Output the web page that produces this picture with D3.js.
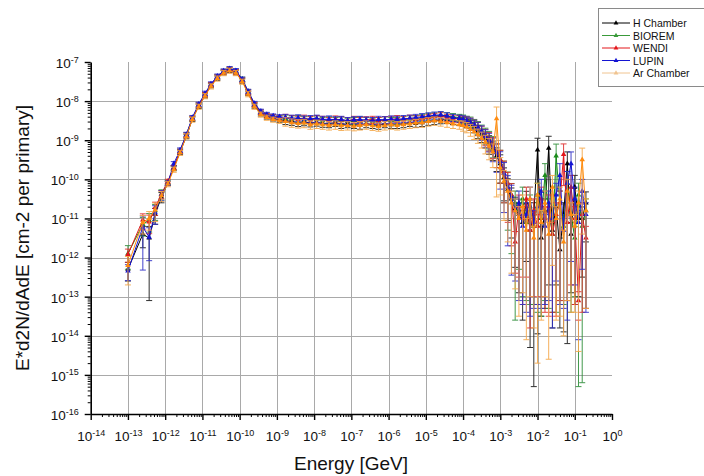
<!DOCTYPE html>
<html>
<head>
<meta charset="utf-8">
<script src="https://cdn.jsdelivr.net/npm/d3@7"></script>
<style>
  body { margin: 0; background: #fff; }
  svg text { font-family: "Liberation Sans", Arial, sans-serif; }
</style>
</head>
<body>
<div id="chart"></div>
<script>
// log10 of bin energy [GeV], shared by all detectors
const logE = [
  -13.0, -12.6, -12.43, -12.27, -12.1, -11.93, -11.77, -11.6, -11.43, -11.27,
  -11.1, -10.93, -10.77, -10.6, -10.43, -10.27, -10.1, -9.93, -9.77, -9.6,
  -9.43, -9.27, -9.1, -8.93, -8.77, -8.6, -8.43, -8.27, -8.1, -7.93,
  -7.77, -7.6, -7.43, -7.27, -7.1, -6.93, -6.77, -6.6, -6.43, -6.27,
  -6.1, -5.93, -5.77, -5.6, -5.43, -5.27, -5.1, -4.93, -4.77, -4.6,
  -4.43, -4.27, -4.1, -4.0, -3.9, -3.8, -3.7, -3.6, -3.5, -3.4,
  -3.3, -3.2, -3.1, -3.0, -2.9, -2.8, -2.7, -2.6, -2.5, -2.4,
  -2.3, -2.2, -2.1, -2.0, -1.9, -1.8, -1.7, -1.6, -1.5, -1.4,
  -1.3, -1.2, -1.1, -1.0, -0.9, -0.8, -0.7
];

// log10 of E*d2N/dAdE, and error (decades from value down to lower whisker)
const hChamber = [
  -12.3, -11.4, -11.5, -10.9, -10.45, -10.1, -9.7, -9.3, -8.9, -8.46,
  -8.13, -7.86, -7.6, -7.41, -7.27, -7.21, -7.27, -7.48, -7.8, -8.12,
  -8.32, -8.4, -8.45, -8.48, -8.5, -8.52, -8.55, -8.53, -8.56, -8.54,
  -8.57, -8.58, -8.55, -8.6, -8.58, -8.6, -8.62, -8.58, -8.6, -8.62,
  -8.58, -8.6, -8.6, -8.58, -8.55, -8.57, -8.55, -8.52, -8.5, -8.48,
  -8.47, -8.5, -8.52, -8.52, -8.56, -8.6, -8.66, -8.76, -8.86, -8.95,
  -9.06, -9.22, -9.4, -9.6, -9.95, -10.25, -10.5, -10.75, -10.9, -11.1,
  -10.6, -11.3, -10.9, -9.25, -11.5, -10.8, -9.2, -11.3, -10.7, -11.8,
  -10.9, -9.6, -11.4, -10.2, -11.0, -11.0, -10.6
];
const hChamberErr = [
  0.3, 0.35, 1.6, 0.25, 0.15, 0.06, 0.06, 0.06, 0.06, 0.06,
  0.06, 0.06, 0.06, 0.06, 0.06, 0.06, 0.06, 0.06, 0.06, 0.06,
  0.06, 0.06, 0.06, 0.06, 0.1, 0.1, 0.1, 0.1, 0.1, 0.1,
  0.1, 0.1, 0.1, 0.1, 0.1, 0.1, 0.1, 0.1, 0.1, 0.1,
  0.1, 0.1, 0.1, 0.1, 0.1, 0.1, 0.1, 0.1, 0.1, 0.1,
  0.1, 0.1, 0.1, 0.12, 0.12, 0.15, 0.15, 0.2, 0.2, 0.25,
  0.3, 0.3, 0.4, 0.5, 0.6, 0.8, 1.0, 1.5, 2.0, 2.5,
  1.5, 3.0, 4.4, 4.7, 2.0, 2.5, 3.5, 2.5, 2.0, 2.0,
  3.0, 4.6, 1.5, 3.0, 2.0, 1.5, 1.0
];

const biorem = [
  -11.9, -11.15, -11.05, -10.8, -10.38, -10.07, -9.72, -9.28, -8.86, -8.44,
  -8.1, -7.83, -7.58, -7.38, -7.24, -7.18, -7.24, -7.44, -7.76, -8.08,
  -8.28, -8.36, -8.4, -8.42, -8.44, -8.46, -8.45, -8.48, -8.47, -8.46,
  -8.5, -8.48, -8.5, -8.49, -8.52, -8.5, -8.48, -8.5, -8.52, -8.5,
  -8.48, -8.5, -8.5, -8.47, -8.46, -8.45, -8.42, -8.4, -8.38, -8.36,
  -8.38, -8.4, -8.42, -8.45, -8.48, -8.52, -8.58, -8.66, -8.75, -8.85,
  -8.95, -9.1, -9.3, -9.5, -9.8, -10.1, -10.4, -10.6, -10.8, -10.5,
  -11.1, -10.7, -11.2, -10.4, -11.0, -9.9, -10.8, -11.4, -9.4, -10.6,
  -11.2, -10.1, -10.9, -11.5, -10.4, -11.2, -10.8
];
const bioremErr = [
  0.4, 0.3, 0.3, 0.25, 0.15, 0.06, 0.06, 0.06, 0.06, 0.06,
  0.06, 0.06, 0.06, 0.06, 0.06, 0.06, 0.06, 0.06, 0.06, 0.06,
  0.06, 0.06, 0.06, 0.06, 0.1, 0.1, 0.1, 0.1, 0.1, 0.1,
  0.1, 0.1, 0.1, 0.1, 0.1, 0.1, 0.1, 0.1, 0.1, 0.1,
  0.1, 0.1, 0.1, 0.1, 0.1, 0.1, 0.1, 0.1, 0.1, 0.1,
  0.1, 0.1, 0.1, 0.12, 0.12, 0.15, 0.15, 0.2, 0.2, 0.25,
  0.3, 0.35, 0.4, 0.6, 0.8, 1.2, 1.5, 3.0, 1.5, 2.5,
  2.0, 2.5, 2.0, 3.0, 2.5, 3.2, 2.5, 2.0, 4.0, 2.5,
  2.0, 3.0, 2.5, 1.5, 4.9, 4.0, 2.5
];

const wendi = [
  -11.92, -11.04, -11.09, -10.72, -10.38, -10.05, -9.7, -9.28, -8.87, -8.44,
  -8.1, -7.83, -7.58, -7.38, -7.25, -7.19, -7.25, -7.46, -7.77, -8.09,
  -8.28, -8.37, -8.4, -8.43, -8.42, -8.45, -8.47, -8.44, -8.48, -8.45,
  -8.47, -8.5, -8.46, -8.48, -8.5, -8.47, -8.5, -8.48, -8.47, -8.5,
  -8.48, -8.47, -8.45, -8.48, -8.44, -8.46, -8.45, -8.42, -8.4, -8.38,
  -8.42, -8.44, -8.45, -8.48, -8.5, -8.55, -8.6, -8.68, -8.78, -8.88,
  -8.98, -9.12, -9.3, -9.5, -9.8, -10.1, -10.4, -11.6, -10.7, -11.0,
  -10.5, -11.3, -10.8, -11.2, -10.5, -11.0, -10.7, -11.4, -10.9, -10.6,
  -9.36, -11.1, -10.2, -11.0, -13.1, -10.9, -11.5
];
const wendiErr = [
  0.2, 0.25, 0.3, 0.2, 0.12, 0.06, 0.06, 0.06, 0.06, 0.06,
  0.06, 0.06, 0.06, 0.06, 0.06, 0.06, 0.06, 0.06, 0.06, 0.06,
  0.06, 0.06, 0.06, 0.06, 0.1, 0.1, 0.1, 0.1, 0.1, 0.1,
  0.1, 0.1, 0.1, 0.1, 0.1, 0.1, 0.1, 0.1, 0.1, 0.1,
  0.1, 0.1, 0.1, 0.1, 0.1, 0.1, 0.1, 0.1, 0.1, 0.1,
  0.1, 0.1, 0.1, 0.12, 0.12, 0.15, 0.15, 0.2, 0.2, 0.25,
  0.3, 0.35, 0.4, 0.6, 0.8, 1.0, 1.3, 0.8, 1.8, 2.2,
  2.0, 2.5, 2.2, 2.0, 2.5, 2.4, 2.8, 2.0, 2.6, 2.5,
  0.8, 2.0, 2.5, 2.2, 0.5, 2.5, 1.8
];

const lupin = [
  -12.34, -11.22, -11.48, -10.85, -10.4, -10.1, -9.6, -9.25, -8.85, -8.42,
  -8.08, -7.8, -7.56, -7.36, -7.23, -7.17, -7.22, -7.44, -7.75, -8.06,
  -8.26, -8.34, -8.38, -8.4, -8.42, -8.44, -8.43, -8.46, -8.45, -8.44,
  -8.47, -8.46, -8.48, -8.47, -8.5, -8.48, -8.47, -8.49, -8.5, -8.47,
  -8.48, -8.46, -8.47, -8.45, -8.44, -8.42, -8.4, -8.38, -8.36, -8.35,
  -8.38, -8.42, -8.44, -8.47, -8.5, -8.55, -8.6, -8.68, -8.78, -8.9,
  -9.0, -9.15, -9.32, -9.55, -9.85, -10.2, -10.45, -10.8, -10.6, -11.2,
  -10.9, -10.5, -11.1, -10.7, -10.3, -11.2, -10.6, -11.0, -10.4, -9.9,
  -11.3, -10.1, -9.6, -10.5, -11.1, -10.3, -10.9
];
const lupinErr = [
  0.25, 1.1, 0.6, 0.3, 0.15, 0.06, 0.06, 0.06, 0.06, 0.06,
  0.06, 0.06, 0.06, 0.06, 0.06, 0.06, 0.06, 0.06, 0.06, 0.06,
  0.06, 0.06, 0.06, 0.06, 0.1, 0.1, 0.1, 0.1, 0.1, 0.1,
  0.1, 0.1, 0.1, 0.1, 0.1, 0.1, 0.1, 0.1, 0.1, 0.1,
  0.1, 0.1, 0.1, 0.1, 0.1, 0.1, 0.1, 0.1, 0.1, 0.1,
  0.1, 0.1, 0.1, 0.12, 0.12, 0.15, 0.15, 0.2, 0.22, 0.28,
  0.3, 0.4, 0.5, 0.7, 1.0, 1.5, 2.0, 1.8, 2.5, 2.0,
  2.5, 3.0, 2.2, 2.5, 3.0, 2.0, 2.5, 2.8, 2.2, 3.3,
  2.0, 3.5, 2.5, 2.2, 3.0, 2.0, 2.5
];

const arChamber = [
  -12.2, -11.1, -11.0, -10.78, -10.42, -10.12, -9.75, -9.32, -8.9, -8.47,
  -8.14, -7.87, -7.62, -7.42, -7.28, -7.22, -7.28, -7.5, -7.82, -8.14,
  -8.34, -8.42, -8.47, -8.5, -8.52, -8.55, -8.57, -8.56, -8.6, -8.58,
  -8.6, -8.62, -8.6, -8.63, -8.62, -8.64, -8.62, -8.6, -8.63, -8.65,
  -8.62, -8.6, -8.62, -8.6, -8.58, -8.56, -8.55, -8.52, -8.5, -8.52,
  -8.55, -8.58, -8.6, -8.62, -8.66, -8.72, -8.78, -8.86, -8.95, -9.05,
  -9.15, -9.3, -8.45, -9.7, -10.05, -10.3, -10.6, -10.8, -11.0, -10.7,
  -11.3, -10.5, -11.5, -10.4, -11.1, -10.6, -11.4, -10.2, -11.0, -10.5,
  -11.6, -10.3, -10.9, -11.2, -10.6, -9.5, -10.8
];
const arChamberErr = [
  0.5, 0.3, 0.3, 0.3, 0.15, 0.07, 0.07, 0.07, 0.07, 0.07,
  0.07, 0.07, 0.07, 0.07, 0.07, 0.07, 0.07, 0.07, 0.07, 0.07,
  0.07, 0.07, 0.07, 0.07, 0.12, 0.12, 0.12, 0.12, 0.12, 0.12,
  0.12, 0.12, 0.12, 0.12, 0.12, 0.12, 0.12, 0.12, 0.12, 0.12,
  0.12, 0.12, 0.12, 0.12, 0.12, 0.12, 0.12, 0.12, 0.12, 0.12,
  0.12, 0.12, 0.12, 0.15, 0.15, 0.18, 0.2, 0.22, 0.25, 0.3,
  0.35, 0.4, 2.0, 0.7, 1.0, 1.3, 1.8, 2.0, 2.5, 2.2,
  2.8, 2.5, 2.3, 4.3, 2.5, 2.4, 3.2, 2.0, 2.6, 3.0,
  2.4, 2.8, 2.5, 2.2, 3.8, 1.9, 2.5
];

const seriesNames = ["H Chamber", "BIOREM", "WENDI", "LUPIN", "Ar Chamber"];
const xTickExp = [-14, -13, -12, -11, -10, -9, -8, -7, -6, -5, -4, -3, -2, -1, 0];
const yTickExp = [-16, -15, -14, -13, -12, -11, -10, -9, -8, -7];

const series = [
  { name: seriesNames[0], vals: hChamber, err: hChamberErr, color: "#000000", bar: "#1a1a1a" },
  { name: seriesNames[1], vals: biorem, err: bioremErr, color: "#1b8c1b", bar: "#2f8f3a" },
  { name: seriesNames[2], vals: wendi, err: wendiErr, color: "#e3161b", bar: "#e03030" },
  { name: seriesNames[3], vals: lupin, err: lupinErr, color: "#1414d2", bar: "#3030c8" },
  { name: seriesNames[4], vals: arChamber, err: arChamberErr, color: "#ff8c10", bar: "#f5a84a" }
];

const width = 704, height = 476;

const svg = d3.select("#chart").append("svg")
  .attr("width", width)
  .attr("height", height);

// Scales
const x = d3.scaleLog().domain([1e-14, 1]).range([90.7, 612]);
const y = d3.scaleLog().domain([1e-16, 1e-7]).range([414, 62]);

// Grid
const grid = svg.append("g").attr("stroke", "#a9a9a9").attr("stroke-width", 1);
grid.selectAll(".vg")
  .data(xTickExp.filter(e => e > -14 && e < 0))
  .enter().append("line")
  .attr("x1", e => Math.round(x(Math.pow(10, e))) + 0.5)
  .attr("x2", e => Math.round(x(Math.pow(10, e))) + 0.5)
  .attr("y1", y(1e-7)).attr("y2", y(1e-16));
grid.selectAll(".hg")
  .data(yTickExp.filter(e => e > -16 && e < -7))
  .enter().append("line")
  .attr("y1", e => Math.round(y(Math.pow(10, e))) + 0.5)
  .attr("y2", e => Math.round(y(Math.pow(10, e))) + 0.5)
  .attr("x1", x(1e-14)).attr("x2", x(1));

// Plot data
svg.append("clipPath").attr("id", "clip")
  .append("rect").attr("x", x(1e-14)).attr("y", 40)
  .attr("width", x(1) - x(1e-14)).attr("height", y(1e-16) - 40);

const plot = svg.append("g").attr("clip-path", "url(#clip)");
const tri = d3.symbol().type(d3.symbolTriangle).size(13);

series.forEach(s => {
  const pts = logE.map((e, i) => {
    const v = Math.pow(10, s.vals[i]);
    const rel = 1 - Math.pow(10, -s.err[i]);
    return { e: Math.pow(10, e), v: v, lo: v * (1 - rel), hi: v * (1 + rel) };
  });
  const g = plot.append("g");

  // error bars
  const eb = g.selectAll(".eb").data(pts).enter().append("g")
    .attr("stroke", s.bar).attr("stroke-width", 1).attr("opacity", 0.9);
  eb.append("line")
    .attr("x1", d => x(d.e)).attr("x2", d => x(d.e))
    .attr("y1", d => y(Math.max(d.lo, 1e-17))).attr("y2", d => y(d.hi));
  eb.append("line")
    .attr("x1", d => x(d.e) - 3).attr("x2", d => x(d.e) + 3)
    .attr("y1", d => y(d.hi)).attr("y2", d => y(d.hi));
  eb.append("line")
    .attr("x1", d => x(d.e) - 3).attr("x2", d => x(d.e) + 3)
    .attr("y1", d => y(Math.max(d.lo, 1e-17))).attr("y2", d => y(Math.max(d.lo, 1e-17)));

  // line
  g.append("path")
    .datum(pts)
    .attr("fill", "none")
    .attr("stroke", s.color)
    .attr("stroke-width", 1)
    .attr("d", d3.line().x(d => x(d.e)).y(d => y(d.v)));

  // markers
  g.selectAll(".mk").data(pts).enter().append("path")
    .attr("d", tri)
    .attr("fill", s.color)
    .attr("transform", d => `translate(${x(d.e)},${y(d.v)})`);
});

// Superscript labels
function expLabel(text, e) {
  text.text("");
  text.append("tspan").text("10");
  text.append("tspan").attr("dy", "-0.6em").attr("font-size", "9px").text(e);
}

// Minor ticks
const xMinor = [], yMinor = [];
xTickExp.slice(0, -1).forEach(e => [2, 3, 4, 5, 6, 7, 8, 9].forEach(k => xMinor.push(k * Math.pow(10, e))));
yTickExp.slice(0, -1).forEach(e => [2, 3, 4, 5, 6, 7, 8, 9].forEach(k => yMinor.push(k * Math.pow(10, e))));

svg.append("g")
  .attr("transform", `translate(0,${y(1e-16)})`)
  .call(d3.axisBottom(x).tickValues(xMinor).tickSize(3).tickFormat(""))
  .call(g => g.select(".domain").remove())
  .selectAll("line").attr("stroke-width", 1);

svg.append("g")
  .attr("transform", `translate(${x(1e-14)},0)`)
  .call(d3.axisLeft(y).tickValues(yMinor).tickSize(3).tickFormat(""))
  .call(g => g.select(".domain").remove())
  .selectAll("line").attr("stroke-width", 1);

// X Axis
const xAxis = svg.append("g")
  .attr("transform", `translate(0,${y(1e-16)})`)
  .call(d3.axisBottom(x).tickValues(xTickExp.map(e => Math.pow(10, e))).tickSize(6).tickSizeOuter(0));
xAxis.select(".domain").attr("stroke-width", 1.6);
xAxis.selectAll("line").attr("stroke-width", 1.4);
xAxis.selectAll("text")
  .attr("font-size", "13.5px").attr("fill", "#111")
  .attr("y", 27).attr("dy", 0)
  .each(function (d, i) { expLabel(d3.select(this), xTickExp[i]); });

// Y Axis
const yAxis = svg.append("g")
  .attr("transform", `translate(${x(1e-14)},0)`)
  .call(d3.axisLeft(y).tickValues(yTickExp.map(e => Math.pow(10, e))).tickSize(6).tickSizeOuter(0));
yAxis.select(".domain").attr("stroke-width", 1.6);
yAxis.selectAll("line").attr("stroke-width", 1.4);
yAxis.selectAll("text")
  .attr("font-size", "13.5px").attr("fill", "#111")
  .attr("x", -12).attr("dy", "0.4em")
  .each(function (d, i) { expLabel(d3.select(this), yTickExp[i]); });

// Axis titles
svg.append("text")
  .attr("x", 351).attr("y", 470)
  .attr("text-anchor", "middle")
  .attr("font-size", "19px").attr("fill", "#111")
  .text("Energy [GeV]");

svg.append("text")
  .attr("transform", "rotate(-90)")
  .attr("x", -238).attr("y", 29)
  .attr("text-anchor", "middle")
  .attr("font-size", "19px").attr("fill", "#111")
  .text("E*d2N/dAdE [cm-2 per primary]");

// Legend
const legend = svg.append("g");
legend.append("rect")
  .attr("x", 598.5).attr("y", 8.5).attr("width", 120).attr("height", 78)
  .attr("fill", "#fff").attr("stroke", "#8a8a8a");
const legendColors = ["#000000", "#3a9a3a", "#e3161b", "#1414d2", "#f0c490"];
seriesNames.forEach((name, i) => {
  const ly = 23 + i * 12.5;
  legend.append("line")
    .attr("x1", 602).attr("x2", 630).attr("y1", ly).attr("y2", ly)
    .attr("stroke", legendColors[i]).attr("stroke-width", 1);
  legend.append("path")
    .attr("d", d3.symbol().type(d3.symbolTriangle).size(10))
    .attr("fill", legendColors[i])
    .attr("transform", `translate(616,${ly})`);
  legend.append("text")
    .attr("x", 633).attr("y", ly + 4)
    .attr("font-size", "10.5px").attr("fill", "#111")
    .text(name);
});
</script>
</body>
</html>
